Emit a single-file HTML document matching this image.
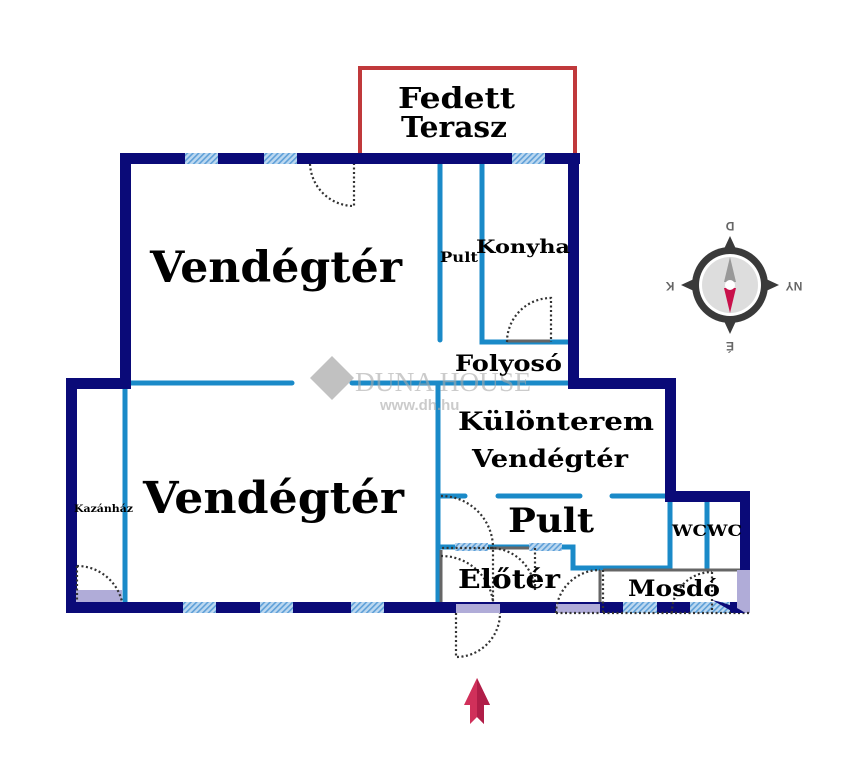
<!DOCTYPE html>
<html><head><meta charset="utf-8"><style>
html,body{margin:0;padding:0;background:#fff;width:847px;height:768px;overflow:hidden}
svg{display:block}
text{font-family:"DejaVu Serif","Liberation Serif",serif;font-weight:bold;fill:#000}
</style></head><body>
<svg width="847" height="768" viewBox="0 0 847 768" xmlns="http://www.w3.org/2000/svg">
<defs>
<pattern id="h" width="4" height="4" patternUnits="userSpaceOnUse" patternTransform="rotate(45)">
<rect width="4" height="4" fill="#bcd8f0"/><rect width="1.6" height="4" fill="#5fa0d8"/></pattern>
</defs>
<rect x="360" y="68" width="215" height="88" fill="none" stroke="#c0393b" stroke-width="4"/>
<g stroke="#1a8ac8" stroke-width="5" stroke-linecap="round" fill="none">
<line x1="125" y1="389" x2="125" y2="602"/>
<line x1="131" y1="383" x2="292" y2="383"/>
<line x1="352" y1="383" x2="568" y2="383"/>
<line x1="440" y1="164" x2="440" y2="340"/>
<polyline points="482,164 482,342 568,342"/>
<line x1="438" y1="383" x2="438" y2="602"/>
<line x1="438" y1="496" x2="465" y2="496"/>
<line x1="498" y1="496" x2="580" y2="496"/>
<line x1="612" y1="496" x2="665" y2="496"/>
<polyline points="438,547 573,547 573,568 670,568"/>
<line x1="670" y1="502" x2="670" y2="568"/>
<line x1="707" y1="502" x2="707" y2="568"/>
</g>
<g stroke="#666" stroke-width="3" fill="none">
<line x1="441" y1="550" x2="441" y2="602"/>
<line x1="490" y1="548" x2="537" y2="548"/>
<line x1="600" y1="570" x2="600" y2="602"/>
<line x1="603" y1="570" x2="748" y2="570"/>
<line x1="310" y1="160" x2="354" y2="160"/>
<line x1="507" y1="341" x2="550" y2="341"/>
</g>
<g fill="#0a0a78">
<rect x="120" y="153" width="460" height="11"/>
<rect x="120" y="153" width="11" height="236"/>
<rect x="568" y="153" width="11" height="236"/>
<rect x="66" y="378" width="65" height="11"/>
<rect x="568" y="378" width="108" height="11"/>
<rect x="66" y="378" width="11" height="235"/>
<rect x="66" y="602" width="684" height="11"/>
<rect x="665" y="378" width="11" height="124"/>
<rect x="665" y="491" width="85" height="11"/>
<rect x="740" y="491" width="10" height="122"/>
</g>
<g fill="url(#h)">
<rect x="185" y="153" width="33" height="11"/>
<rect x="264" y="153" width="33" height="11"/>
<rect x="512" y="153" width="33" height="11"/>
<rect x="183" y="602" width="33" height="11"/>
<rect x="260" y="602" width="33" height="11"/>
<rect x="351" y="602" width="33" height="11"/>
<rect x="623" y="602" width="34" height="11"/>
<rect x="455" y="543" width="33" height="8"/>
<rect x="529" y="543" width="33" height="8"/>
<rect x="690" y="602" width="40" height="11"/>
</g>
<g fill="#b0acd8">
<rect x="76" y="590" width="46" height="12"/>
<rect x="456" y="604" width="44" height="9"/>
<rect x="556" y="604" width="44" height="9"/>
<rect x="737" y="570" width="13" height="43"/>
</g>
<g stroke="#333" stroke-width="2.2" stroke-dasharray="2,2.5" fill="none">
<path d="M310 164 A44 44 0 0 0 354 206 L354 164"/>
<path d="M507 342 A44 44 0 0 1 551 298 L551 342"/>
<path d="M77 566 A46 46 0 0 1 122 602"/>
<path d="M77 566 L77 602"/>
<path d="M441 496 A52 52 0 0 1 493 548 L441 548"/>
<path d="M441 556 A52 52 0 0 1 493 602 L493 548"/>
<path d="M490 548 A45 45 0 0 1 535 590"/>
<path d="M535 548 L535 590"/>
<path d="M556 613 A44 44 0 0 1 600 570"/>
<path d="M556 613 L600 613"/>
<path d="M456 613 L456 657 A44 44 0 0 0 500 613"/>
<path d="M672 613 A40 40 0 0 1 712 572"/>
<path d="M712 572 L712 613"/>
<path d="M603 570 L603 613"/>
<path d="M603 613 L750 613"/>
</g>
<path d="M712 600 Q735 605 745 613 L735 613 Z" fill="#0a0a78"/>
<g opacity="0.6">
<path d="M332 356 L354 378 L332 400 L310 378 Z" fill="#999"/>
<text x="355" y="391" style="fill:#aaa;font-weight:normal;font-family:'Liberation Serif',serif;font-size:27px" textLength="176" lengthAdjust="spacingAndGlyphs">DUNA HOUSE</text>
<text x="380" y="410" style="fill:#aaa;font-size:15px;font-family:'Liberation Sans',sans-serif">www.dh.hu</text>
</g>
<text x="398" y="108" font-size="29" textLength="117" lengthAdjust="spacingAndGlyphs">Fedett</text>
<text x="401" y="137" font-size="29" textLength="106" lengthAdjust="spacingAndGlyphs">Terasz</text>
<text x="150" y="282" font-size="43" textLength="252" lengthAdjust="spacingAndGlyphs">Vendégtér</text>
<text x="143" y="513" font-size="44" textLength="261" lengthAdjust="spacingAndGlyphs">Vendégtér</text>
<text x="440" y="262" font-size="14" textLength="38" lengthAdjust="spacingAndGlyphs">Pult</text>
<text x="476" y="253" font-size="19" textLength="94" lengthAdjust="spacingAndGlyphs">Konyha</text>
<text x="455" y="371" font-size="22" textLength="107" lengthAdjust="spacingAndGlyphs">Folyosó</text>
<text x="458" y="430" font-size="25" textLength="196" lengthAdjust="spacingAndGlyphs">Különterem</text>
<text x="472" y="467" font-size="24" textLength="156" lengthAdjust="spacingAndGlyphs">Vendégtér</text>
<text x="508" y="532" font-size="34" textLength="86" lengthAdjust="spacingAndGlyphs">Pult</text>
<text x="458" y="588" font-size="26" textLength="102" lengthAdjust="spacingAndGlyphs">Előtér</text>
<text x="628" y="596" font-size="22" textLength="92" lengthAdjust="spacingAndGlyphs">Mosdó</text>
<text x="672" y="536" font-size="16" textLength="70" lengthAdjust="spacingAndGlyphs">WCWC</text>
<text x="74" y="512" font-size="10" textLength="59" lengthAdjust="spacingAndGlyphs">Kazánház</text>
<g>
<polygon points="730,236 742,262 718,262" fill="#3a3a3a"/>
<polygon points="730,334 742,308 718,308" fill="#3a3a3a"/>
<polygon points="681,285 707,273 707,297" fill="#3a3a3a"/>
<polygon points="779,285 753,273 753,297" fill="#3a3a3a"/>
<circle cx="730" cy="285" r="38" fill="#3a3a3a"/>
<circle cx="730" cy="285" r="31" fill="#fff"/>
<circle cx="730" cy="285" r="28" fill="#ddd"/>
<polygon points="730,257 736,282 724,282" fill="#999"/>
<polygon points="730,313 736,288 724,288" fill="#c8104a"/>
<circle cx="730" cy="285" r="5" fill="#fff"/>
<text x="730" y="230" font-size="12" text-anchor="middle" transform="rotate(180 730 226)" style="fill:#666;font-family:'Liberation Sans',sans-serif">D</text>
<text x="730" y="350" font-size="12" text-anchor="middle" transform="rotate(180 730 346)" style="fill:#666;font-family:'Liberation Sans',sans-serif">É</text>
<text x="670" y="290" font-size="12" text-anchor="middle" transform="rotate(180 670 286)" style="fill:#666;font-family:'Liberation Sans',sans-serif">K</text>
<text x="794" y="290" font-size="12" text-anchor="middle" transform="rotate(180 794 286)" style="fill:#666;font-family:'Liberation Sans',sans-serif">NY</text>
</g>
<polygon points="477,678 490,705 484,705 484,724 477,717 470,724 470,705 464,705" fill="#d0305a"/>
<polygon points="477,678 490,705 484,705 484,724 477,717" fill="#b01e48"/>
</svg>
</body></html>
